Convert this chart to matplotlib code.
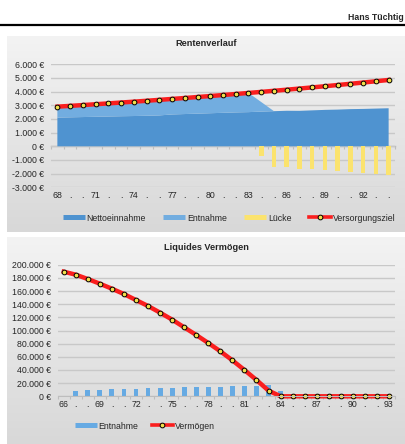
import numpy as np
import matplotlib
matplotlib.use("Agg")
import matplotlib.pyplot as plt
from matplotlib.lines import Line2D
from matplotlib.colors import LinearSegmentedColormap
from matplotlib.ticker import FuncFormatter

plt.rcParams["font.family"] = ["Liberation Sans", "DejaVu Sans"]

# --- Rentenverlauf (Monatswerte in EUR) ---
jahre_rente = list(range(68, 95))
labels_rente = ["68", ".", ".", "71", ".", ".", "74", ".", ".", "77", ".", ".",
                "80", ".", ".", "83", ".", ".", "86", ".", ".", "89", ".", ".",
                "92", ".", "."]
nettoeinnahme = [2100, 2120, 2140, 2160, 2180, 2200, 2215, 2235, 2260, 2330,
                 2360, 2390, 2420, 2450, 2480, 2500, 2540, 2570, 2600, 2595,
                 2630, 2665, 2685, 2720, 2735, 2760, 2785]
entnahme_monat = [800, 840, 875, 920, 960, 1000, 1050, 1095, 1140, 1135,
                  1175, 1215, 1260, 1300, 1345, 1405, 700, 0, 0, 0,
                  0, 0, 0, 0, 0, 0, 0]
luecke = [0, 0, 0, 0, 0, 0, 0, 0, 0, 0,
          0, 0, 0, 0, 0, 0, -740, -1490, -1540, -1630,
          -1680, -1730, -1800, -1850, -1930, -2000, -2070]
versorgungsziel = [2900, 2958, 3017, 3078, 3139, 3202, 3266, 3331, 3398, 3466,
                   3535, 3606, 3678, 3752, 3827, 3903, 3981, 4061, 4142, 4225,
                   4310, 4396, 4484, 4573, 4665, 4758, 4853]

# --- Liquides Vermoegen (Jahreswerte in EUR) ---
jahre_verm = list(range(66, 94))
labels_verm = ["66", ".", ".", "69", ".", ".", "72", ".", ".", "75", ".", ".",
               "78", ".", ".", "81", ".", ".", "84", ".", ".", "87", ".", ".",
               "90", ".", ".", "93"]
entnahme_jahr = [0, 7600, 9600, 10100, 10600, 11100, 11600, 12200, 12700, 13200,
                 13700, 13700, 14200, 14700, 15200, 16200, 16200, 17200, 8600, 0,
                 0, 0, 0, 0, 0, 0, 0, 0]
vermoegen = [189400, 184800, 178200, 171100, 163500, 155400, 146300, 137200,
             127100, 116500, 104800, 93200, 81000, 68400, 54700, 40000, 24800,
             8600, 0, 0, 0, 0, 0, 0, 0, 0, 0, 0]

C_NETTO = "#4f93d0"
C_ENTN = "#72ade0"
C_BAR = "#66aae3"
C_LUECKE = "#fbe36e"
C_RED = "#fa1e1e"
C_MARK = "#f2e04c"
C_GRID = "#c8c8c8"
C_TEXT = "#262626"
FS = 6.3

W, H = 405, 444
fig = plt.figure(figsize=(W / 100, H / 100), dpi=100)


def euro(v, _):
    return f"{v:,.0f}".replace(",", ".") + " \u20ac"


# background panels, header, titles (pixel coordinates)
bg = fig.add_axes([0, 0, 1, 1], zorder=-10)
cmap = LinearSegmentedColormap.from_list("panel", ["#f3f3f3", "#d8d8d8"])
grad = np.linspace(0, 1, 256)[:, None]
for y0, y1 in [(37, 232), (237, 444)]:
    bg.imshow(grad, extent=(7, W, y1, y0), cmap=cmap, aspect="auto",
              origin="upper", interpolation="bilinear")
bg.plot([0, W], [25, 25], color="black", lw=1.6)
bg.text(404, 17, "Hans Tüchtig", fontsize=6.3, fontweight="bold",
        color=C_TEXT, va="center", ha="right")
bg.text(206, 44, "Rentenverlauf", fontsize=6.6, fontweight="bold",
        color=C_TEXT, ha="center", va="center")
bg.text(206, 247, "Liquides Vermögen", fontsize=6.6, fontweight="bold",
        color=C_TEXT, ha="center", va="center")
bg.set_xlim(0, W)
bg.set_ylim(H, 0)
bg.axis("off")


def style_axes(ax):
    ax.set_facecolor("none")
    for s in ax.spines.values():
        s.set_visible(False)
    ax.yaxis.set_major_formatter(FuncFormatter(euro))
    ax.tick_params(axis="y", length=0, pad=5, labelsize=FS, labelcolor=C_TEXT)
    ax.tick_params(axis="x", which="major", length=0, pad=3, labelsize=FS,
                   labelcolor=C_TEXT)
    ax.grid(axis="y", color=C_GRID, lw=1.0)
    ax.set_axisbelow(True)


# ---------------- Rentenverlauf ----------------
ax1 = fig.add_axes([51 / W, 1 - 187.3 / H, 344 / W, 123 / H])
style_axes(ax1)
ax1.stackplot(jahre_rente, nettoeinnahme, entnahme_monat,
              colors=[C_NETTO, C_ENTN], lw=0)
ax1.bar(jahre_rente, luecke, width=0.36, color=C_LUECKE)
ax1.plot(jahre_rente, versorgungsziel, color=C_RED, lw=3.2, marker="o",
         ms=3.4, mfc=C_MARK, mec="black", mew=0.7)
ax1.set_xlim(67.5, 94.5)
ax1.set_ylim(-3000, 6000)
ax1.set_yticks(range(-3000, 6001, 1000))
ax1.set_xticks(jahre_rente, labels_rente)

# category axis with tick marks sits on the 0 line
sec = ax1.secondary_xaxis(3000 / 9000)
sec.set_alignment("bottom")
sec.set_xticks(np.arange(67.5, 95.0, 1.0))
sec.tick_params(axis="x", length=2.5, width=0.8, color="#bdbdbd",
                labelbottom=False, labeltop=False)
for s in sec.spines.values():
    s.set_color("#bdbdbd")
    s.set_linewidth(1.0)

h1 = [Line2D([], [], color=C_NETTO, lw=3.6, solid_capstyle="butt"),
      Line2D([], [], color=C_ENTN, lw=3.6, solid_capstyle="butt"),
      Line2D([], [], color=C_LUECKE, lw=3.6, solid_capstyle="butt"),
      Line2D([], [], color=C_RED, lw=2.6, marker="o", ms=3.4, mfc=C_MARK,
             mec="black", mew=0.7)]
fig.legend(h1, ["Nettoeinnahme", "Entnahme", "Lücke", "Versorgungsziel"],
           loc="center", bbox_to_anchor=(229 / W, 1 - 218 / H), ncol=4,
           frameon=False, fontsize=FS, handlelength=2.5, handletextpad=0.2,
           columnspacing=2.0, labelcolor=C_TEXT)

# ---------------- Liquides Vermoegen ----------------
ax2 = fig.add_axes([57.7 / W, 1 - 396.3 / H, 337.3 / W, 131.6 / H])
style_axes(ax2)
ax2.bar(jahre_verm, entnahme_jahr, width=0.4, color=C_BAR)
ax2.plot(jahre_verm, vermoegen, color=C_RED, lw=3.2, marker="o", ms=3.4,
         mfc=C_MARK, mec="black", mew=0.7, clip_on=False)
ax2.set_xlim(65.5, 93.5)
ax2.set_ylim(0, 200000)
ax2.set_yticks(range(0, 200001, 20000))
ax2.set_xticks(jahre_verm, labels_verm)
ax2.set_xticks(np.arange(65.5, 94.0, 1.0), minor=True)
ax2.tick_params(axis="x", which="minor", length=2.5, width=0.8, color="#bdbdbd")
ax2.spines["bottom"].set_visible(True)
ax2.spines["bottom"].set_color("#bdbdbd")

h2 = [Line2D([], [], color=C_BAR, lw=3.6, solid_capstyle="butt"),
      Line2D([], [], color=C_RED, lw=2.6, marker="o", ms=3.4, mfc=C_MARK,
             mec="black", mew=0.7)]
fig.legend(h2, ["Entnahme", "Vermögen"], loc="center",
           bbox_to_anchor=(145 / W, 1 - 426 / H), ncol=2, frameon=False,
           fontsize=FS, handlelength=2.5, handletextpad=0.2,
           columnspacing=1.5, labelcolor=C_TEXT)

fig.savefig("out.png", dpi=100)
